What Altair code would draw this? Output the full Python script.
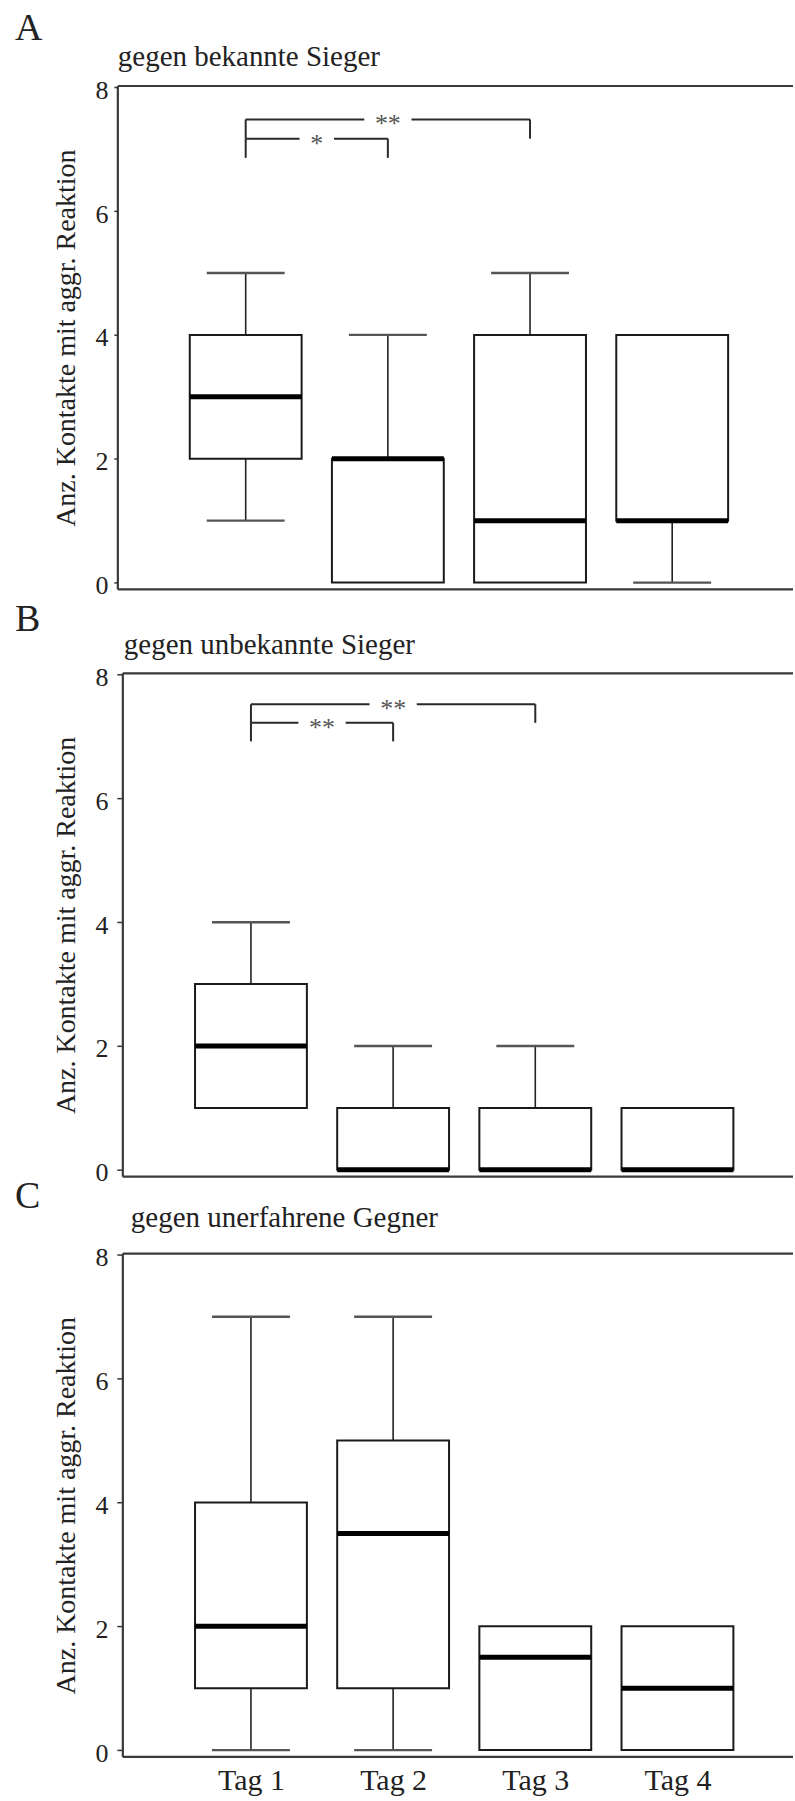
import json
import altair as alt
import pandas as pd

# ---- data -------------------------------------------------------------
days = ["Tag 1", "Tag 2", "Tag 3", "Tag 4"]
day_pos = [1, 2, 3, 4]
y_title = "Anz. Kontakte mit aggr. Reaktion"

# A: gegen bekannte Sieger (whisker low, Q1, median, Q3, whisker high)
a_low = [1, 0, 0, 0]
a_q1 = [2, 0, 0, 1]
a_med = [3, 2, 1, 1]
a_q3 = [4, 2, 4, 4]
a_high = [5, 4, 5, 4]

# B: gegen unbekannte Sieger
b_low = [1, 0, 0, 0]
b_q1 = [1, 0, 0, 0]
b_med = [2, 0, 0, 0]
b_q3 = [3, 1, 1, 1]
b_high = [4, 2, 2, 1]

# C: gegen unerfahrene Gegner
c_low = [0, 0, 0, 0]
c_q1 = [1, 1, 0, 0]
c_med = [2, 3.5, 1.5, 1]
c_q3 = [4, 5, 2, 2]
c_high = [7, 7, 2, 2]

# significance brackets (group from, group to, bracket height, label)
a_sig_from = [1, 1]
a_sig_to = [2, 3]
a_sig_level = [7.17, 7.48]
a_sig_text = ["*", "**"]

b_sig_from = [1, 1]
b_sig_to = [2, 3]
b_sig_level = [7.22, 7.52]
b_sig_text = ["**", "**"]

# ---- styling ----------------------------------------------------------
FONT = "'Liberation Serif', 'Times New Roman', Times, serif"
INK = "#222222"
STEP = 144.5          # px per group on the x scale
W = 671               # plot width
Y_TOP = 8.02
Y_BOTTOM = -0.11
PX_PER_UNIT = 504 / (Y_TOP - Y_BOTTOM)


def panel(letter, title, low, q1, med, q3, high, geo, sig=None, show_x=False):
    height = geo["height"]
    ymin = Y_TOP - height / PX_PER_UNIT
    plot_h = 504
    xdom = [geo["x_left"], geo["x_left"] + W / STEP]
    xs = alt.Scale(domain=xdom, nice=False, zero=False)
    ys = alt.Scale(domain=[ymin, Y_TOP], nice=False, zero=False)

    if show_x:
        x_axis = alt.Axis(
            values=day_pos,
            labelExpr=f"{json.dumps(days)}[datum.value - 1]",
            ticks=False, domain=False, grid=False,
            labelFont=FONT, labelFontSize=30, labelColor=INK,
            labelBaseline="alphabetic", labelPadding=33,
            labelFlush=False, labelOverlap=False,
        )
    else:
        x_axis = None

    y_axis = alt.Axis(
        values=[0, 2, 4, 6, 8], format="d", grid=False, domain=False,
        offset=geo["offset"], tickSize=geo["tick"], tickColor="#333333",
        tickWidth=1.5,
        labelFont=FONT, labelFontSize=26, labelColor=INK,
        labelPadding=geo["label_pad"], labelFlush=False, labelOverlap=False,
        labelBaseline="middle", labelOffset=3,
        title=y_title, titleFont=FONT, titleFontSize=28,
        titleFontWeight="normal", titleColor=INK, titleAngle=270,
        titleBaseline="alphabetic", titleAlign="center",
        titleX=geo["title_x"], titleY=plot_h / 2,
    )

    boxes = pd.DataFrame({"pos": day_pos, "tag": days, "low": low, "q1": q1,
                          "med": med, "q3": q3, "high": high})

    whisk_rows, cap_rows = [], []
    for p, lo, a, b, hi in zip(day_pos, low, q1, q3, high):
        if hi > b:
            whisk_rows.append({"pos": p, "y0": b, "y1": hi})
            cap_rows.append({"pos": p, "y": hi})
        if lo < a:
            whisk_rows.append({"pos": p, "y0": lo, "y1": a})
            cap_rows.append({"pos": p, "y": lo})
    whisk = pd.DataFrame(whisk_rows)
    caps = pd.DataFrame(cap_rows)

    one = pd.DataFrame({"t": [title]})
    off = geo["offset"]

    layers = []
    # frame: left, top, bottom lines
    frame_style = dict(color="#3a3a3a", strokeWidth=2.2)
    layers.append(alt.Chart(one).mark_rule(**frame_style).encode(
        x=alt.value(-off), y=alt.value(0), y2=alt.value(plot_h)))
    layers.append(alt.Chart(one).mark_rule(**frame_style).encode(
        x=alt.value(-off), x2=alt.value(W), y=alt.value(0)))
    layers.append(alt.Chart(one).mark_rule(**frame_style).encode(
        x=alt.value(-off), x2=alt.value(W), y=alt.value(plot_h)))

    # whiskers and caps
    layers.append(alt.Chart(whisk).mark_rule(color=INK, strokeWidth=1.6).encode(
        x=alt.X("pos:Q", scale=xs, axis=x_axis, title=None),
        y=alt.Y("y0:Q", scale=ys, axis=y_axis),
        y2="y1:Q"))
    layers.append(alt.Chart(caps).mark_tick(
        orient="horizontal", size=78, thickness=2.4, color="#555555",
        opacity=1).encode(
        x=alt.X("pos:Q", scale=xs), y=alt.Y("y:Q", scale=ys)))

    # boxes and medians
    layers.append(alt.Chart(boxes).mark_bar(
        size=112, fill="white", stroke="#1a1a1a", strokeWidth=2,
        opacity=1).encode(
        x=alt.X("pos:Q", scale=xs), y=alt.Y("q1:Q", scale=ys), y2="q3:Q"))
    layers.append(alt.Chart(boxes).mark_tick(
        orient="horizontal", size=112, thickness=5, color="black",
        opacity=1).encode(
        x=alt.X("pos:Q", scale=xs), y=alt.Y("med:Q", scale=ys)))

    # significance brackets
    if sig is not None:
        s_from, s_to, s_level, s_text, drop = sig
        segs, labs = [], []
        for a, b, lev, txt in zip(s_from, s_to, s_level, s_text):
            mid = (a + b) / 2
            gap = (11 + 6.5 * len(txt)) / STEP
            segs += [
                {"x": a, "x2": mid - gap, "y": lev, "y2": lev},
                {"x": mid + gap, "x2": b, "y": lev, "y2": lev},
                {"x": a, "x2": a, "y": lev, "y2": lev - drop},
                {"x": b, "x2": b, "y": lev, "y2": lev - drop},
            ]
            labs.append({"x": mid, "y": lev, "t": txt})
        layers.append(alt.Chart(pd.DataFrame(segs)).mark_rule(
            color="#2a2a2a", strokeWidth=2).encode(
            x=alt.X("x:Q", scale=xs), x2="x2:Q",
            y=alt.Y("y:Q", scale=ys), y2="y2:Q"))
        layers.append(alt.Chart(pd.DataFrame(labs)).mark_text(
            font=FONT, fontSize=26, color="#555555", baseline="alphabetic",
            dy=13).encode(
            x=alt.X("x:Q", scale=xs), y=alt.Y("y:Q", scale=ys), text="t:N"))

    # panel letter and heading
    layers.append(alt.Chart(pd.DataFrame({"t": [letter]})).mark_text(
        font=FONT, fontSize=38, color=INK, align="left",
        baseline="alphabetic").encode(
        x=alt.value(-108), y=alt.value(geo["letter_y"]), text="t:N"))
    layers.append(alt.Chart(one).mark_text(
        font=FONT, fontSize=29, color=INK, align="left",
        baseline="alphabetic").encode(
        x=alt.value(geo["head_x"]), y=alt.value(geo["head_y"]), text="t:N"))

    if geo.get("anchor"):
        layers.append(alt.Chart(one).mark_rule(opacity=0, strokeWidth=0.1).encode(
            x=alt.value(-122), x2=alt.value(-121), y=alt.value(-84)))

    return alt.layer(*layers).properties(width=W, height=height)


geo_a = dict(height=511, x_left=0.171, offset=5, tick=4, label_pad=6,
             title_x=-43.5, letter_y=-46, head_x=-5, head_y=-20, anchor=True)
geo_b = dict(height=504, x_left=0.134, offset=0, tick=6, label_pad=9,
             title_x=-48.5, letter_y=-42, head_x=1, head_y=-19)
geo_c = dict(height=504, x_left=0.134, offset=0, tick=6, label_pad=9,
             title_x=-48.5, letter_y=-46, head_x=8, head_y=-27)

pa = panel("A", "gegen bekannte Sieger", a_low, a_q1, a_med, a_q3, a_high, geo_a,
           sig=(a_sig_from, a_sig_to, a_sig_level, a_sig_text, 0.31))
pb = panel("B", "gegen unbekannte Sieger", b_low, b_q1, b_med, b_q3, b_high, geo_b,
           sig=(b_sig_from, b_sig_to, b_sig_level, b_sig_text, 0.30))
pc = panel("C", "gegen unerfahrene Gegner", c_low, c_q1, c_med, c_q3, c_high, geo_c,
           show_x=True)

chart = alt.vconcat(pa, pb, pc, spacing=77, bounds="flush").properties(
    padding=0, background="white"
).configure_view(stroke="transparent")

chart.save("out.html", embed_options={"renderer": "svg", "actions": False})
